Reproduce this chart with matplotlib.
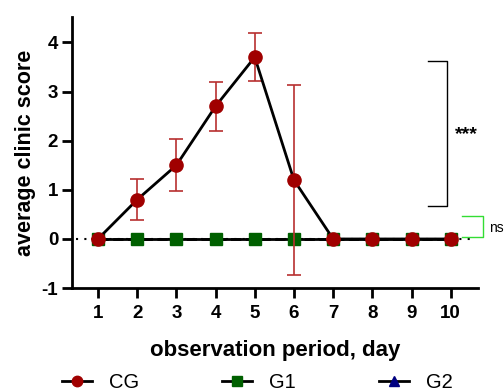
import numpy as np
import matplotlib.pyplot as plt
from matplotlib.lines import Line2D

plt.rcParams['font.family'] = ['Liberation Sans', 'DejaVu Sans']
plt.rcParams['axes.unicode_minus'] = False

days = [1, 2, 3, 4, 5, 6, 7, 8, 9, 10]
cg = [0, 0.8, 1.5, 2.7, 3.7, 1.2, 0, 0, 0, 0]
cg_err = [0, 0.42, 0.53, 0.5, 0.49, 1.94, 0, 0, 0, 0]
g1 = [0, 0, 0, 0, 0, 0, 0, 0, 0, 0]
g2 = [0, 0, 0, 0, 0, 0, 0, 0, 0, 0]

fig = plt.figure(figsize=(5.04, 3.92), dpi=100)
ax = fig.add_axes([0.143, 0.265, 0.805, 0.692])

# dotted baseline
ax.plot([0.45, 10.55], [0, 0], color='black', lw=1.5, ls=(0, (1, 3)), zorder=1)

ax.plot(days, g2, color='black', lw=2, ls='--', marker='^', ms=7,
        mfc='#000080', mec='#000080', zorder=2)
ax.plot(days, g1, color='black', lw=2, marker='s', ms=8,
        mfc='#006000', mec='#006000', zorder=3)
ax.errorbar(days, cg, yerr=cg_err, color='black', lw=2, marker='o', ms=9.5,
            mfc='#a00000', mec='#a00000', ecolor='#b83030', elinewidth=1.2,
            capsize=5, capthick=1.2, zorder=4)

# significance brackets
ax.plot([9.42, 9.9, 9.9, 9.42], [3.63, 3.63, 0.67, 0.67], color='black', lw=1, clip_on=False)
ax.text(10.1, 2.12, '***', fontsize=14, fontweight='bold', va='center', ha='left')
ax.plot([10.29, 10.82, 10.82, 10.29], [0.47, 0.47, 0.04, 0.04], color='#33dd33', lw=1, clip_on=False)
ax.text(10.98, 0.22, 'ns', fontsize=10, va='center', ha='left')

ax.set_xlim(0.34, 10.69)
ax.set_ylim(-1, 4.52)
ax.set_xticks(days)
ax.set_yticks([-1, 0, 1, 2, 3, 4])
ax.spines['top'].set_visible(False)
ax.spines['right'].set_visible(False)
ax.spines['left'].set_linewidth(2)
ax.spines['bottom'].set_linewidth(2)
ax.tick_params(width=2, length=7, labelsize=13.5)
for lab in ax.get_xticklabels() + ax.get_yticklabels():
    lab.set_fontweight('bold')
ax.tick_params(axis='x', pad=5)
ax.tick_params(axis='y', pad=3)

ax.set_xlabel('observation period, day', fontsize=16, fontweight='bold', labelpad=13)
ax.set_ylabel('average clinic score', fontsize=15.5, fontweight='bold', labelpad=4)

handles = [
    Line2D([], [], color='black', lw=2, marker='o', ms=7.5, mfc='#a00000', mec='#a00000'),
    Line2D([], [], color='black', lw=2, marker='s', ms=7, mfc='#006000', mec='#006000'),
    Line2D([], [], color='black', lw=2, marker='^', ms=7.5, mfc='#000080', mec='#000080'),
]
fig.legend(handles, ['CG', 'G1', 'G2'], loc='center left',
           bbox_to_anchor=(62 / 504, 1 - 383 / 392), ncol=3, frameon=False,
           fontsize=14.5, borderpad=0, borderaxespad=0,
           columnspacing=4.1, handlelength=1.5, handletextpad=0.85)

fig.savefig('out.png', dpi=100)
